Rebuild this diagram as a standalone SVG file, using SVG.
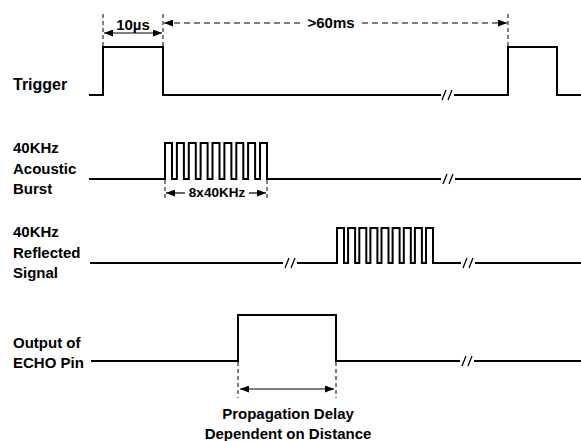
<svg xmlns="http://www.w3.org/2000/svg" width="581" height="441" viewBox="0 0 581 441">
<style>
.sig{fill:none;stroke:#000;stroke-width:2;stroke-linejoin:miter}
.brk{fill:none;stroke:#000;stroke-width:1.3}
.dash{fill:none;stroke:#000;stroke-width:1;stroke-dasharray:4 3}
.dim{fill:none;stroke:#000;stroke-width:1.2}
.dimd{fill:none;stroke:#000;stroke-width:1.2;stroke-dasharray:6 4}
.lbl{font-family:"Liberation Sans",Arial,sans-serif;font-weight:bold;font-size:15px;fill:#000}
</style>
<defs>
<marker id="ah" markerWidth="9" markerHeight="7" refX="9" refY="3.5" orient="auto-start-reverse" markerUnits="userSpaceOnUse">
<path d="M0 0 L9 3.5 L0 7 Z" fill="#000"/>
</marker>
</defs>
<rect width="581" height="441" fill="#fff"/>

<g id="trigger">
<text class="lbl" x="13" y="90" style="font-size:16px">Trigger</text>
<path class="sig" d="M89 95 H103 V47 H163 V95 H441 M454 95 H508 V47 H557 V95 H581"/>
<path class="brk" d="M442 100 L446 90 M448 100 L452 90"/>
</g>

<g id="burst">
<text class="lbl" x="13" y="153">40KHz</text>
<text class="lbl" x="13" y="173.5">Acoustic</text>
<text class="lbl" x="13" y="194">Burst</text>
<path class="sig" d="M89 179 H165 V143 H172 V179 H176.9 V143 H183.9 V179 H188.8 V143 H195.8 V179 H200.6 V143 H207.6 V179 H212.5 V143 H219.5 V179 H224.4 V143 H231.4 V179 H236.3 V143 H243.3 V179 H248.1 V143 H255.1 V179 H260 V143 H267 V179 H441 M455 179 H581"/>
<path class="brk" d="M443 184 L447 174 M449 184 L453 174"/>
</g>

<g id="reflected">
<text class="lbl" x="13" y="237">40KHz</text>
<text class="lbl" x="13" y="257.5">Reflected</text>
<text class="lbl" x="13" y="278">Signal</text>
<path class="sig" d="M90 263 H283 M297 263 H337 V228 H344 V263 H348.1 V228 H355.1 V263 H359.3 V228 H366.3 V263 H370.4 V228 H377.4 V263 H381.5 V228 H388.5 V263 H392.6 V228 H399.6 V263 H403.8 V228 H410.8 V263 H414.9 V228 H421.9 V263 H426 V228 H433 V263 H461 M475 263 H581"/>
<path class="brk" d="M285 268 L289 258 M291 268 L295 258 M463 268 L467 258 M469 268 L473 258"/>
</g>

<g id="echo">
<text class="lbl" x="13" y="348">Output of</text>
<text class="lbl" x="13" y="368">ECHO Pin</text>
<path class="sig" d="M91 361 H238 V315 H336 V361 H460 M474 361 H581"/>
<path class="brk" d="M462 366 L466 356 M468 366 L472 356"/>
</g>

<g id="connectors">
<path class="dash" d="M103 14 V47 M163 14 V47 M508 14 V47"/>
<path class="dim" d="M104 33 H162" marker-start="url(#ah)" marker-end="url(#ah)"/>
<text class="lbl" x="133" y="30" text-anchor="middle">10µs</text>
<path class="dimd" d="M164 23 H300" marker-start="url(#ah)"/>
<path class="dimd" d="M362 23 H507" marker-end="url(#ah)"/>
<text class="lbl" x="331" y="28" text-anchor="middle">&gt;60ms</text>

<path class="dash" d="M165 180 V201 M267 180 V201"/>
<path class="dim" d="M166 193 H185" marker-start="url(#ah)"/>
<path class="dim" d="M249 193 H266" marker-end="url(#ah)"/>
<text class="lbl" x="217" y="197" text-anchor="middle" style="font-size:13.5px">8x40KHz</text>

<path class="dash" d="M238 362 V398 M336 362 V398"/>
<path class="dim" d="M240 389 H334" marker-start="url(#ah)" marker-end="url(#ah)"/>
<text class="lbl" x="288" y="419" text-anchor="middle">Propagation Delay</text>
<text class="lbl" x="288" y="439" text-anchor="middle">Dependent on Distance</text>
</g>
</svg>
